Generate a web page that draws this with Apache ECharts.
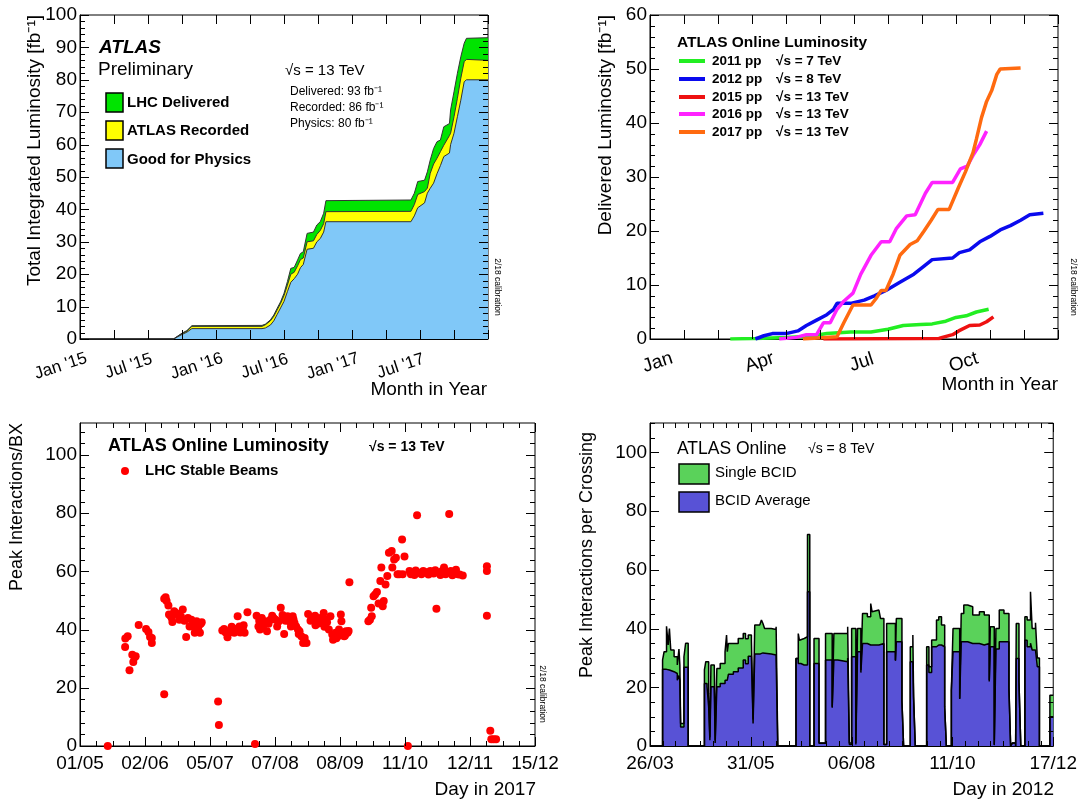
<!DOCTYPE html>
<html lang="en">
<head>
  <meta charset="UTF-8">
  <title>ATLAS luminosity and pile-up</title>
  <script src="https://cdn.jsdelivr.net/npm/echarts@6/dist/echarts.min.js"></script>
</head>
<body style="margin:0;background:#fff;">
<div id="chart" style="width:1080px;height:803px;"></div>

<script>
  var FONT = 'Liberation Sans, Arial, Helvetica, sans-serif';

  // top left: cumulative luminosity 2015-2017, months since Jan 2015
  var lumiMonths = [0, 8.25, 9.0, 9.43, 9.87, 16.06, 16.36, 16.8, 17.1, 17.4, 17.7, 18.0, 18.3, 18.6, 18.9,
    19.2, 19.45, 19.7, 20.04, 20.6, 20.9, 21.2, 21.5, 21.7, 29.2, 29.5, 29.8, 30.4, 30.65, 30.9, 31.2,
    31.5, 31.8, 32.1, 32.6, 32.7, 33.0, 33.3, 33.6, 33.9, 34.1, 36];
  var lhcDelivered = [0, 0, 1.8, 2.6, 4.1, 4.2, 4.6, 5.9, 7.4, 9.5, 11.5, 14.1, 17.7, 21.8, 22.1,
    24.4, 26.4, 26.9, 32.6, 33.0, 35.2, 36.2, 38.8, 42.7, 42.9, 45.0, 48.6, 49.0, 51.6, 55.2, 58.8,
    60.9, 61.4, 65.5, 66.5, 70.7, 76.3, 82.0, 87.1, 91.3, 92.8, 93];
  var atlasRecorded = [0, 0, 1.7, 2.4, 3.9, 3.9, 4.4, 5.6, 7.0, 9.0, 11.0, 13.4, 16.6, 20.0, 20.6,
    22.6, 24.5, 25.0, 30.0, 30.3, 32.3, 33.5, 35.6, 39.3, 39.4, 41.5, 44.6, 45.5, 46.6, 51.1, 54.0,
    55.8, 57.8, 59.8, 62.8, 63.5, 68.6, 74.3, 80.5, 85.6, 86.3, 86];
  var goodPhysics = [0, 0, 1.4, 2.1, 3.2, 3.2, 3.4, 4.3, 5.6, 7.6, 9.6, 11.6, 14.6, 17.5, 18.6,
    20.0, 22.0, 23.0, 27.7, 28.0, 30.0, 31.0, 33.0, 36.2, 36.2, 38.0, 40.5, 42.0, 45.0, 46.5, 48.1,
    51.0, 53.5, 56.3, 57.4, 60.0, 63.5, 68.6, 73.7, 79.4, 80.0, 80];
  var lumiTickLabels = ["Jan '15", "Jul '15", "Jan '16", "Jul '16", "Jan '17", "Jul '17"];

  // top right: delivered luminosity per year, [month of year, fb-1]
  var lumi2011 = [[2.36, 0], [3.1, 0.1], [4.0, 0.3], [4.7, 0.5], [5.2, 1.0], [5.9, 1.3], [6.5, 1.3],
    [7.0, 1.8], [7.45, 2.5], [7.96, 2.7], [8.3, 2.8], [8.7, 3.3], [9.0, 4.0], [9.3, 4.3], [9.6, 5.0], [9.96, 5.5]];
  var lumi2012 = [[3.1, 0], [3.35, 0.6], [3.6, 1.0], [4.0, 1.0], [4.35, 1.5], [4.6, 2.5], [4.9, 3.5],
    [5.2, 4.5], [5.4, 5.5], [5.5, 6.6], [5.9, 6.6], [6.3, 7.2], [6.6, 8.0], [6.94, 9.0], [7.35, 10.5],
    [7.76, 12.0], [8.06, 13.5], [8.3, 14.7], [8.9, 15.0], [9.1, 16.0], [9.4, 16.5], [9.7, 18.0],
    [10.0, 19.0], [10.3, 20.2], [10.6, 21.0], [10.9, 22.0], [11.17, 23.0], [11.57, 23.3]];
  var lumi2015 = [[5.1, 0], [8.5, 0.1], [8.6, 0.3], [8.9, 0.8], [9.08, 1.5], [9.4, 2.5], [9.7, 2.6],
    [9.9, 3.2], [10.1, 4.1]];
  var lumi2016 = [[3.8, 0], [4.3, 0.3], [4.6, 0.8], [4.9, 0.8], [5.1, 3.0], [5.3, 3.0], [5.5, 5.5],
    [5.7, 7.0], [5.97, 8.5], [6.2, 12.0], [6.5, 15.5], [6.8, 18.0], [7.05, 18.0], [7.25, 20.5],
    [7.55, 22.8], [7.8, 23.0], [8.1, 27.0], [8.3, 29.0], [8.9, 29.0], [9.13, 31.5], [9.33, 32.0],
    [9.5, 34.0], [9.7, 36.0], [9.9, 38.5]];
  var lumi2017 = [[4.5, 0], [5.5, 0.4], [5.7, 3.0], [5.97, 6.3], [6.5, 6.3], [6.65, 7.5], [6.8, 9.0],
    [6.94, 9.0], [7.15, 12.0], [7.35, 15.5], [7.65, 17.5], [7.86, 18.2], [8.06, 20.0], [8.27, 22.0],
    [8.47, 24.0], [8.8, 24.0], [9.07, 28.0], [9.28, 31.0], [9.5, 34.5], [9.6, 37.0], [9.75, 41.0],
    [9.9, 44.0], [10.05, 46.0], [10.2, 49.0], [10.3, 50.0], [10.9, 50.2]];
  var monthTickLabels = ['Jan', 'Apr', 'Jul', 'Oct'];

  // bottom left: peak pile-up per fill 2017, [days since 01/05, interactions]
  var stableBeams = [[13.9, 0], [22.6, 34.0], [22.7, 36.9], [23.9, 37.7], [24.8, 26.0], [26.2, 31.4],
    [26.7, 28.9], [27.4, 30.5], [27.9, 30.8], [29.4, 41.6], [33.1, 40.2], [34.3, 39.2], [35.1, 37.5],
    [36.0, 35.4], [36.0, 37.1], [42.2, 17.8], [42.2, 50.6], [42.9, 51.1], [43.4, 49.8], [44.3, 48.3],
    [44.6, 45.2], [45.5, 44.6], [46.0, 44.0], [46.3, 42.6], [47.2, 46.3], [48.0, 45.7], [48.9, 45.2],
    [49.8, 43.4], [50.6, 44.5], [51.5, 46.9], [52.3, 43.0], [53.2, 37.5], [54.1, 44.0], [54.9, 41.1],
    [55.8, 43.4], [56.7, 41.1], [57.0, 42.0], [57.5, 38.9], [58.4, 42.9], [59.2, 40.0], [59.8, 41.7],
    [60.1, 38.9], [60.5, 42.0], [61.0, 42.5], [69.2, 15.3], [69.6, 7.2], [71.3, 39.7], [72.2, 40.2],
    [73.0, 39.0], [73.9, 37.4], [74.7, 38.9], [75.6, 40.0], [76.0, 41.0], [76.5, 39.4], [77.3, 38.9],
    [78.2, 40.2], [79.0, 44.6], [79.9, 41.1], [80.3, 39.0], [80.8, 40.0], [81.6, 40.6], [82.0, 41.5],
    [82.5, 38.9], [83.9, 46.0], [87.7, 0.7], [88.5, 44.8], [89.4, 41.1], [89.8, 43.0], [90.2, 40.0],
    [91.1, 44.0], [92.0, 41.5], [92.8, 42.9], [93.7, 39.4], [94.5, 42.0], [95.4, 43.4], [96.3, 44.8],
    [97.0, 44.0], [98.0, 43.4], [98.8, 41.1], [99.7, 42.9], [100.6, 47.5], [101.5, 45.0], [102.3, 38.5],
    [103.0, 43.0], [104.0, 44.6], [104.9, 42.9], [105.7, 41.1], [106.6, 44.6], [107.0, 43.5],
    [107.5, 42.3], [108.3, 41.1], [109.2, 40.0], [109.6, 38.5], [110.0, 39.4], [110.9, 37.7],
    [111.8, 35.4], [112.6, 37.1], [113.5, 35.4], [114.3, 45.4], [115.5, 43.0], [116.9, 44.0],
    [117.8, 44.8], [118.0, 41.5], [118.7, 42.9], [119.5, 42.1], [120.4, 44.0], [120.8, 43.0],
    [121.2, 42.3], [122.1, 45.7], [122.5, 41.0], [123.0, 43.4], [123.8, 42.5], [124.7, 40.0],
    [125.5, 44.6], [126.4, 38.3], [126.8, 36.5], [127.3, 37.1], [128.1, 38.9], [128.5, 37.0],
    [129.0, 37.7], [129.8, 40.0], [130.2, 38.0], [130.7, 45.2], [131.0, 42.9], [131.6, 38.9],
    [132.4, 37.7], [132.8, 38.0], [133.3, 39.4], [134.1, 38.9], [134.6, 39.5], [135.0, 56.3],
    [144.5, 42.9], [145.3, 43.4], [145.9, 47.5], [146.2, 44.6], [147.1, 51.5], [147.9, 52.1],
    [148.8, 52.9], [149.6, 49.0], [150.5, 56.7], [151.0, 61.3], [151.7, 48.0], [152.2, 49.8],
    [153.1, 55.5], [154.0, 58.4], [154.8, 66.4], [156.2, 67.0], [156.5, 61.3], [157.4, 64.1],
    [158.3, 64.7], [159.1, 59.0], [160.0, 59.0], [161.4, 71.0], [161.7, 59.0], [162.6, 65.1],
    [164.3, 0], [165.1, 60.1], [165.8, 59.0], [166.9, 59.5], [167.6, 58.8], [168.2, 60.3],
    [168.9, 79.3], [170.3, 59.5], [171.1, 59.0], [172.0, 60.1], [172.8, 59.8], [173.8, 59.5],
    [174.6, 58.9], [175.5, 60.1], [176.3, 59.6], [177.2, 59.3], [178.0, 60.4], [178.6, 47.2],
    [179.8, 59.5], [180.6, 58.8], [181.5, 60.1], [182.4, 61.3], [183.2, 59.0], [184.1, 59.8],
    [185.0, 79.7], [185.8, 60.1], [186.6, 58.7], [187.5, 59.5], [188.4, 60.6], [189.3, 59.0],
    [190.2, 58.9], [191.8, 58.6], [203.9, 61.8], [203.9, 60.1], [203.9, 44.8], [205.6, 5.2],
    [206.1, 2.3], [207.3, 2.3], [208.5, 2.3]];
  var day2017Labels = ['01/05', '02/06', '05/07', '07/08', '08/09', '11/10', '12/11', '15/12'];

  // bottom right: peak pile-up 2012, bins starting at day since 26/03
  var binDays = [0, 8.3, 9.3, 10.9, 12.0, 12.8, 13.7, 15.9, 18.0, 19.1, 19.7, 20.2, 22.4, 23.5, 25.2,
    35.9, 36.8, 37.6, 38.7, 39.5, 40.2, 42.4, 43.0, 44.1, 46.3, 49.5, 50.5, 51.0, 51.7, 55.0, 58.2,
    61.5, 63.0, 64.8, 66.9, 68.0, 69.1, 72.4, 73.5, 74.5, 75.6, 80.0, 83.2, 84.3, 96.3, 97.8, 98.6,
    99.5, 101.7, 103.9, 105.4, 108.2, 111.5, 115.8, 120.2, 121.3, 123.9, 130.4, 131.5, 133.0, 135.8,
    136.9, 139.1, 140.2, 143.4, 145.6, 146.5, 147.8, 151.0, 152.1, 154.3, 156.1, 161.9, 162.5, 166.2,
    167.3, 171.7, 173.4, 173.9, 175.0, 182.5, 184.0, 185.8, 189.0, 190.5, 192.3, 194.4, 195.5, 198.8,
    199.9, 204.3, 205.3, 207.0, 209.6, 212.9, 217.3, 220.5, 223.8, 224.5, 227.1, 228.2, 230.4, 233.5,
    236.8, 237.9, 239.0, 241.2, 241.6, 243.4, 244.6, 247.3, 248.8, 251.0, 252.1, 254.3, 255.5, 256.9,
    263.8, 266];
  var singleBCID = [0, 29.3, 32.1, 40.8, 34.4, 40.0, 32.7, 30.4, 27.6, 33.0, 27.6, 7.7, 30.4, 35.0, 0,
    25.9, 28.7, 28.7, 18.0, 3.0, 27.6, 27.6, 2.0, 26.4, 28.1, 32.1, 37.8, 32.1, 34.9, 34.9, 36.6,
    38.3, 36.5, 37.8, 36.0, 9.0, 41.2, 41.7, 42.9, 41.7, 40.0, 39.7, 40.6, 0, 29.8, 38.3, 36.0,
    36.6, 37.2, 72.0, 0, 36.6, 1.0, 38.3, 13.4, 38.3, 38.3, 40.6, 1.0, 40.0, 1.0,
    40.0, 25.9, 45.1, 44.0, 48.5, 45.7, 46.3, 46.8, 43.4, 0.5, 41.7, 29.3, 43.4, 15.6,
    0, 33.8, 37.8, 16.8, 0, 33.8, 27.0, 36.1, 42.9, 44.0, 41.2, 13.4, 0, 19.0,
    40.0, 16.2, 45.1, 48.0, 47.4, 44.6, 45.7, 44.6, 22.4, 40.6, 0.5, 40.0, 46.3, 45.1,
    20.0, 0, 1.0, 0, 41.7, 22.0, 0, 44.0, 42.9, 52.5, 40.0, 42.0, 30.0, 0,
    17.3, 17.3];
  var bcidAverage = [0, 26.1, 26.1, 25.9, 25.9, 26.0, 25.3, 24.7, 22.4, 24.0, 22.4, 6.5, 26.8, 26.8, 0,
    21.3, 21.3, 20.2, 13.4, 2.0, 20.2, 19.0, 1.0, 20.2, 21.3, 22.4, 22.4, 22.4, 24.4, 25.3, 26.6,
    29.3, 28.0, 30.6, 30.0, 7.7, 31.3, 31.7, 31.7, 31.7, 31.3, 31.0, 29.5, 0, 29.8, 28.1, 28.1,
    27.6, 27.6, 52.5, 0, 28.1, 0.9, 29.3, 13.0, 29.3, 28.7, 30.0, 0.5, 30.4, 0.5,
    32.1, 25.0, 34.9, 34.4, 34.4, 34.4, 34.4, 34.4, 34.9, 0.5, 32.1, 29.0, 35.5, 15.0,
    0, 28.7, 28.7, 16.0, 0, 27.6, 25.0, 33.8, 34.4, 34.4, 33.8, 13.0, 0, 19.0,
    32.1, 16.0, 35.5, 35.5, 34.9, 34.9, 34.4, 34.9, 22.0, 33.8, 0.3, 33.0, 35.5, 35.5,
    19.0, 0, 1.0, 0, 29.8, 22.0, 0, 36.0, 33.8, 35.0, 32.7, 33.0, 27.0, 0,
    10.0, 10.0];
  var day2012Labels = ['26/03', '31/05', '06/08', '11/10', '17/12'];

  function zip(xs, ys) {
    return xs.map(function (x, i) { return [x, ys[i]]; });
  }

  // grid boxes, in pixels
  var grids = [
    {left: 80, top: 15, width: 408, height: 324},
    {left: 650, top: 15, width: 408, height: 324},
    {left: 80, top: 423, width: 455, height: 323},
    {left: 650, top: 423, width: 408, height: 323}
  ];

  var xSpec = [
    {min: 0, max: 36, interval: 3, minor: 1, rotate: 18, size: 17, align: 'center', pad: [0, 46, 0, 0], margin: 12,
      fmt: function (v) { return (v % 6 === 0 && v < 36) ? lumiTickLabels[v / 6] : ''; }},
    {min: 0, max: 12, interval: 1, minor: 1, rotate: 18, size: 19, align: 'center', pad: [0, 0, 0, 10], margin: 16,
      fmt: function (v) { return (v % 3 === 0 && v < 12) ? monthTickLabels[v / 3] : ''; }},
    {min: 0, max: 228, interval: 228 / 7, minor: 4, rotate: 0, size: 19, margin: 8,
      fmt: function (v) { return day2017Labels[Math.round(v / (228 / 7))] || ''; }},
    {min: 0, max: 266, interval: 66.5, minor: 8, rotate: 0, size: 19, margin: 8,
      fmt: function (v) { return day2012Labels[Math.round(v / 66.5)] || ''; }}
  ];
  var ySpec = [
    {min: 0, max: 100, interval: 10, minor: 5},
    {min: 0, max: 60, interval: 10, minor: 5},
    {min: 0, max: 111, interval: 20, minor: 5},
    {min: 0, max: 110, interval: 20, minor: 4}
  ];

  function labelAxis(s, gi, isX) {
    var a = {
      type: 'value', gridIndex: gi, position: isX ? 'bottom' : 'left',
      min: s.min, max: s.max, interval: s.interval,
      axisLine: {show: true, onZero: false, lineStyle: {color: '#000', width: 1}},
      axisTick: {show: false}, minorTick: {show: false}, splitLine: {show: false},
      axisLabel: {show: true, color: '#000', fontFamily: FONT}
    };
    if (isX) {
      a.axisLabel.fontSize = s.size;
      a.axisLabel.rotate = s.rotate;
      a.axisLabel.margin = s.margin;
      a.axisLabel.formatter = s.fmt;
      if (s.align) { a.axisLabel.align = s.align; a.axisLabel.verticalAlign = 'top'; }
      if (s.pad) { a.axisLabel.padding = s.pad; }
    } else {
      a.axisLabel.fontSize = 19;
      a.axisLabel.margin = 3;
      a.axisLabel.formatter = function (v) { return v > 100 ? '' : String(v); };
    }
    return a;
  }

  // inward ROOT-style ticks on all four sides, placed with the axes' own scales
  // kind: 0 x major, 1 x minor, 2 y major, 3 y minor
  function tickValues(s, kindMajor) {
    var out = [], step = s.interval / s.minor, n = Math.round((s.max - s.min) / step + 1e-6);
    for (var k = 0; k <= n; k++) {
      var v = s.min + k * step;
      if (v > s.max + 1e-9) break;
      out.push([v, k % s.minor === 0 ? kindMajor : kindMajor + 1]);
    }
    return out;
  }
  function crisp(p) { return Math.round(p) + 0.5; }
  function tickSeries(gi) {
    var xs = xSpec[gi], ys = ySpec[gi];
    var data = tickValues(xs, 0).concat(tickValues(ys, 2));
    return {
      type: 'custom', xAxisIndex: gi, yAxisIndex: gi, z: 20, silent: true, clip: false,
      data: data,
      renderItem: function (params, api) {
        var v = api.value(0), kind = api.value(1);
        var len = (kind === 0 || kind === 2) ? 9 : 5;
        var st = {stroke: '#000', lineWidth: 1};
        var a, b;
        if (kind < 2) {
          a = api.coord([v, ys.min]); b = api.coord([v, ys.max]);
          var x = crisp(a[0]);
          return {type: 'group', children: [
            {type: 'line', shape: {x1: x, y1: a[1], x2: x, y2: a[1] - len}, style: st},
            {type: 'line', shape: {x1: x, y1: b[1], x2: x, y2: b[1] + len}, style: st}
          ]};
        }
        a = api.coord([xs.min, v]); b = api.coord([xs.max, v]);
        var y = crisp(a[1]);
        return {type: 'group', children: [
          {type: 'line', shape: {x1: a[0], y1: y, x2: a[0] + len, y2: y}, style: st},
          {type: 'line', shape: {x1: b[0], y1: y, x2: b[0] - len, y2: y}, style: st}
        ]};
      }
    };
  }

  var xAxes = [], yAxes = [];
  for (var i = 0; i < 4; i++) {
    xAxes.push(labelAxis(xSpec[i], i, true));
    yAxes.push(labelAxis(ySpec[i], i, false));
  }

  function areaSeries(ys, color) {
    return {
      type: 'line', xAxisIndex: 0, yAxisIndex: 0, data: zip(lumiMonths, ys),
      symbol: 'none', lineStyle: {color: '#333', width: 1},
      areaStyle: {color: color, opacity: 1}
    };
  }
  function yearSeries(data, color) {
    return {
      type: 'line', xAxisIndex: 1, yAxisIndex: 1, data: data,
      symbol: 'none', lineStyle: {color: color, width: 3.5}
    };
  }
  function histSeries(ys, color) {
    return {
      type: 'line', xAxisIndex: 3, yAxisIndex: 3, step: 'end', data: zip(binDays, ys),
      symbol: 'none', lineStyle: {color: '#000', width: 1.5},
      areaStyle: {color: color, opacity: 1}
    };
  }

  var C = {
    delivered: '#00e400', recorded: '#ffff00', physics: '#80c8f8',
    y2011: '#22ee22', y2012: '#0a0aee', y2015: '#ee1111', y2016: '#ff22ff', y2017: '#ff6a10',
    single: '#5ad25a', average: '#5852d6'
  };

  var series = [
    areaSeries(lhcDelivered, C.delivered),
    areaSeries(atlasRecorded, C.recorded),
    areaSeries(goodPhysics, C.physics),
    yearSeries(lumi2011, C.y2011),
    yearSeries(lumi2012, C.y2012),
    yearSeries(lumi2015, C.y2015),
    yearSeries(lumi2016, C.y2016),
    yearSeries(lumi2017, C.y2017),
    {type: 'scatter', xAxisIndex: 2, yAxisIndex: 2, data: stableBeams, symbolSize: 8,
      itemStyle: {color: '#ff0000', opacity: 1}},
    histSeries(singleBCID, C.single),
    histSeries(bcidAverage, C.average),
    tickSeries(0), tickSeries(1), tickSeries(2), tickSeries(3)
  ];

  // text, legends and axis titles
  function txt(x, y, text, size, extra) {
    var st = {text: text, fill: '#000', fontSize: size, fontFamily: FONT, align: 'left', verticalAlign: 'middle'};
    for (var k in (extra || {})) { if (k !== 'rotation') st[k] = extra[k]; }
    var el = {type: 'text', x: x, y: y, style: st, z: 100};
    if (extra && extra.rotation) el.rotation = extra.rotation;
    return el;
  }
  function box(x, y, w, h, color) {
    return {type: 'rect', shape: {x: x, y: y, width: w, height: h}, z: 100,
      style: {fill: color, stroke: '#000', lineWidth: 1.5}};
  }
  function swatch(y, color) {
    return {type: 'line', shape: {x1: 679, y1: y, x2: 705, y2: y}, z: 100,
      style: {stroke: color, lineWidth: 4}};
  }
  var UP = Math.PI / 2, DOWN = -Math.PI / 2;
  var yearRows = [
    ['2011 pp', '√s = 7 TeV', C.y2011, 61],
    ['2012 pp', '√s = 8 TeV', C.y2012, 79],
    ['2015 pp', '√s = 13 TeV', C.y2015, 97],
    ['2016 pp', '√s = 13 TeV', C.y2016, 114],
    ['2017 pp', '√s = 13 TeV', C.y2017, 132]
  ];

  var graphic = [
    txt(99, 48, 'ATLAS', 19, {fontWeight: 'bold', fontStyle: 'italic'}),
    txt(98, 70, 'Preliminary', 19),
    box(106, 93, 17, 19, C.delivered), box(106, 121, 17, 19, C.recorded), box(106, 149, 17, 19, C.physics),
    txt(127, 103, 'LHC Delivered', 15, {fontWeight: 'bold'}),
    txt(127, 131, 'ATLAS Recorded', 15, {fontWeight: 'bold'}),
    txt(127, 160, 'Good for Physics', 15, {fontWeight: 'bold'}),
    txt(285, 71, '√s = 13 TeV', 15),
    txt(290, 92, 'Delivered: 93 fb⁻¹', 12),
    txt(290, 108, 'Recorded: 86 fb⁻¹', 12),
    txt(290, 124, 'Physics: 80 fb⁻¹', 12),
    txt(497, 287, '2/18 calibration', 8.5, {align: 'center', rotation: DOWN}),
    txt(35, 15, 'Total Integrated Luminosity [fb⁻¹]', 19, {align: 'right', rotation: UP}),
    txt(487, 390, 'Month in Year', 19, {align: 'right'}),

    txt(677, 43, 'ATLAS Online Luminosity', 15.5, {fontWeight: 'bold'}),
    txt(1073, 287, '2/18 calibration', 8.5, {align: 'center', rotation: DOWN}),
    txt(606, 15, 'Delivered Luminosity [fb⁻¹]', 19, {align: 'right', rotation: UP}),
    txt(1058, 385, 'Month in Year', 19, {align: 'right'}),

    txt(108, 446, 'ATLAS Online Luminosity', 18, {fontWeight: 'bold'}),
    txt(369, 447, '√s = 13 TeV', 14, {fontWeight: 'bold'}),
    {type: 'circle', shape: {cx: 125, cy: 471, r: 4}, style: {fill: '#ff0000'}, z: 100},
    txt(145, 471, 'LHC Stable Beams', 15, {fontWeight: 'bold'}),
    txt(542, 694, '2/18 calibration', 8.5, {align: 'center', rotation: DOWN}),
    txt(17, 423, 'Peak Interactions/BX', 18, {align: 'right', rotation: UP}),
    txt(536, 790, 'Day in 2017', 19, {align: 'right'}),

    txt(677, 449, 'ATLAS Online', 17.5),
    txt(808, 449, '√s = 8 TeV', 14),
    box(679, 464, 30, 20, C.single), box(679, 492, 30, 20, C.average),
    txt(715, 473, 'Single BCID', 15),
    txt(715, 501, 'BCID Average', 15),
    txt(587, 432, 'Peak Interactions per Crossing', 18, {align: 'right', rotation: UP}),
    txt(1054, 790, 'Day in 2012', 19, {align: 'right'})
  ];
  yearRows.forEach(function (r) {
    graphic.push(swatch(r[3], r[2]));
    graphic.push(txt(712, r[3], r[0], 13.5, {fontWeight: 'bold'}));
    graphic.push(txt(776, r[3], r[1], 13.5, {fontWeight: 'bold'}));
  });

  var myChart = echarts.init(document.getElementById('chart'));
  myChart.setOption({
    animation: false,
    backgroundColor: '#fff',
    grid: grids.map(function (g) {
      return {left: g.left, top: g.top, width: g.width, height: g.height,
        show: true, borderColor: '#000', borderWidth: 1, backgroundColor: 'transparent'};
    }),
    xAxis: xAxes,
    yAxis: yAxes,
    series: series,
    graphic: graphic
  });
</script>
</body>
</html>
